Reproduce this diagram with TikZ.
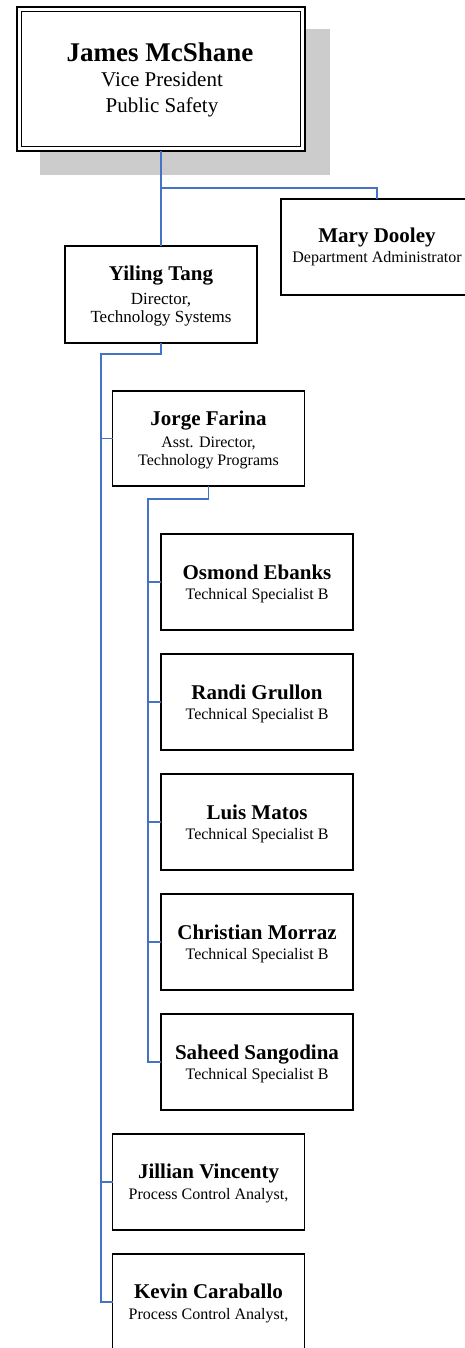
\documentclass[tikz,border=0pt]{standalone}
\usepackage{fontspec}
\setmainfont{Liberation Serif}
\definecolor{connblue}{RGB}{68,114,196}
\definecolor{shadowgray}{RGB}{204,204,204}
\begin{document}
\begin{tikzpicture}[x=1pt,y=-1pt,
  box/.style={draw=black,line width=1.8pt,fill=white,minimum width=192pt,minimum height=96pt,inner sep=0pt,outer sep=0pt},
  conn/.style={draw=connblue,line width=1.4pt},
  nm/.style={font=\bfseries\fontsize{21}{21}\selectfont,anchor=base,inner sep=0pt},
  tt/.style={font=\fontsize{16}{16}\selectfont,anchor=base,inner sep=0pt},
  ttl/.style={font=\fontsize{17}{17}\selectfont,anchor=base,inner sep=0pt},
  bignm/.style={font=\bfseries\fontsize{27}{27}\selectfont,anchor=base,inner sep=0pt},
  bigtt/.style={font=\fontsize{21}{21}\selectfont,anchor=base,inner sep=0pt}]
\useasboundingbox (0,0) rectangle (464,1348);

% top box with shadow and double border
\fill[shadowgray] (40,29) rectangle (330,175);
\node[draw=black,line width=2.5pt,fill=white,minimum width=288pt,minimum height=144pt,inner sep=0pt,outer sep=0pt] (mcshane) at (161,79) {};
\draw[line width=1.3pt] ([shift={(4.5,4.5)}]mcshane.north west) rectangle ([shift={(-4.5,-4.5)}]mcshane.south east);
\node[bignm] (mcshaneN) at (160,62) {James McShane};
\node[bigtt] (mcshaneT1) at (162,87) {Vice President};
\node[bigtt] (mcshaneT2) at (162,113) {Public Safety};

% boxes
\node[box] (dooley) at (377,247) {};
\node[box,minimum height=97pt] (tang) at (161,294.5) {};
\node[box,minimum height=95pt] (farina) at (208.5,438.5) {};
\node[box] (ebanks) at (257,582) {};
\node[box] (grullon) at (257,702) {};
\node[box] (matos) at (257,822) {};
\node[box] (morraz) at (257,942) {};
\node[box] (sangodina) at (257,1062) {};
\node[box] (vincenty) at (208.5,1182) {};
\node[box] (caraballo) at (208.5,1302) {};

% texts
\node[nm] (dooleyN) at (377,243) {Mary Dooley};
\node[tt] (dooleyT) at (377,262) {Department Administrator};

\node[nm] (tangN) at (161,280) {Yiling Tang};
\node[ttl] (tangT1) at (161,304) {Director,};
\node[ttl] (tangT2) at (161,322) {Technology Systems};

\node[nm] (farinaN) at (208.5,425) {Jorge Farina};
\node[tt] (farinaT1) at (208.5,447) {Asst. Director,};
\node[tt] (farinaT2) at (208.5,465) {Technology Programs};

\node[nm] (ebanksN) at (257,579) {Osmond Ebanks};
\node[tt] (ebanksT) at (257,599) {Technical Specialist B};
\node[nm] (grullonN) at (257,699) {Randi Grullon};
\node[tt] (grullonT) at (257,719) {Technical Specialist B};
\node[nm] (matosN) at (257,819) {Luis Matos};
\node[tt] (matosT) at (257,839) {Technical Specialist B};
\node[nm] (morrazN) at (257,939) {Christian Morraz};
\node[tt] (morrazT) at (257,959) {Technical Specialist B};
\node[nm] (sangodinaN) at (257,1059) {Saheed Sangodina};
\node[tt] (sangodinaT) at (257,1079) {Technical Specialist B};

\node[nm] (vincentyN) at (208.5,1178) {Jillian Vincenty};
\node[tt] (vincentyT) at (208.5,1199) {Process Control Analyst,};
\node[nm] (caraballoN) at (208.5,1298) {Kevin Caraballo};
\node[tt] (caraballoT) at (208.5,1319) {Process Control Analyst,};

% connectors
\coordinate (j1) at (161,188);
\draw[conn] (mcshane.south) -- (tang.north);
\draw[conn] (j1) -| (dooley.north);

\coordinate (t1) at (161,354);
\coordinate (t2) at (101,354);
\draw[conn] (tang.south) -- (t1) -- (t2) -- (t2 |- caraballo.west) -- (caraballo.west);
\draw[conn] (t2 |- farina.west) -- (farina.west);
\draw[conn] (t2 |- vincenty.west) -- (vincenty.west);

\coordinate (f1) at (208.5,499);
\coordinate (f2) at (148,499);
\draw[conn] (farina.south) -- (f1) -- (f2) -- (f2 |- sangodina.west) -- (sangodina.west);
\draw[conn] (f2 |- ebanks.west) -- (ebanks.west);
\draw[conn] (f2 |- grullon.west) -- (grullon.west);
\draw[conn] (f2 |- matos.west) -- (matos.west);
\draw[conn] (f2 |- morraz.west) -- (morraz.west);
\end{tikzpicture}
\end{document}
